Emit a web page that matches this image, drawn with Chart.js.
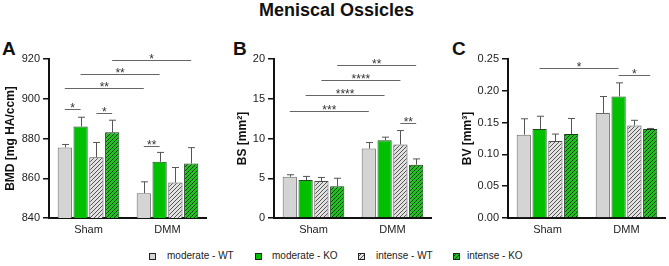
<!DOCTYPE html>
<html>
<head>
<meta charset="utf-8">
<script src="https://cdn.jsdelivr.net/npm/chart.js@4.4.1/dist/chart.umd.min.js"></script>
<style>
  body { margin: 0; background: #fff; font-family: "Liberation Sans", Arial, sans-serif; }
  #page { position: relative; width: 669px; height: 266px; overflow: hidden; }
  .abs { position: absolute; }
  #title { left: 2px; width: 669px; top: 0; text-align: center; font-weight: bold; font-size: 18px; color: #111; }
  .letter { font-weight: bold; font-size: 19px; color: #111; top: 38px; }
  .leg { font-size: 10px; color: #222; top: 250px; line-height: 12px; }
  .sw { top: 253px; }
</style>
</head>
<body>
<div id="page">
  <div id="title" class="abs">Meniscal Ossicles</div>
  <div class="abs letter" style="left:2px">A</div>
  <div class="abs letter" style="left:233px">B</div>
  <div class="abs letter" style="left:452px">C</div>
  <canvas id="chartA" class="abs" width="207" height="200" style="left:0;top:40px"></canvas>
  <canvas id="chartB" class="abs" width="207" height="200" style="left:225px;top:40px"></canvas>
  <canvas id="chartC" class="abs" width="221" height="200" style="left:445px;top:40px"></canvas>
  <div id="legend"></div>
</div>
<script>
// --- data ---
const categories = ["Sham", "DMM"];
const seriesNames = ["moderate - WT", "moderate - KO", "intense - WT", "intense - KO"];

// BMD [mg HA/ccm]
const bmdModWT = [875.5, 852.5];
const bmdModKO = [886.0, 868.3];
const bmdIntWT = [870.6, 857.8];
const bmdIntKO = [883.1, 867.4];
const bmdModWTErr = [1.5, 5.7];
const bmdModKOErr = [4.7, 4.7];
const bmdIntWTErr = [7.4, 7.6];
const bmdIntKOErr = [6.1, 8.0];

// BS [mm2]
const bsModWT = [5.19, 8.73];
const bsModKO = [4.77, 9.79];
const bsIntWT = [4.64, 9.24];
const bsIntKO = [4.0, 6.7];
const bsModWTErr = [0.25, 0.76];
const bsModKOErr = [0.46, 0.38];
const bsIntWTErr = [0.46, 1.76];
const bsIntKOErr = [1.0, 0.73];

// BV [mm3]
const bvModWT = [0.131, 0.165];
const bvModKO = [0.140, 0.191];
const bvIntWT = [0.121, 0.1456];
const bvIntKO = [0.132, 0.1398];
const bvModWTErr = [0.025, 0.026];
const bvModKOErr = [0.020, 0.0215];
const bvIntWTErr = [0.011, 0.008];
const bvIntKOErr = [0.0245, 0.001];

// significance brackets: [series, category, series, category, y, label]
const bmdBrackets = [
  [0, 0, 1, 0, 894.7, "*"],
  [2, 0, 3, 0, 893.0, "*"],
  [0, 0, 0, 1, 905.2, "**"],
  [1, 0, 1, 1, 912.6, "**"],
  [3, 0, 3, 1, 919.5, "*"],
  [0, 1, 1, 1, 876.2, "**"]
];
const bsBrackets = [
  [0, 0, 0, 1, 13.46, "***"],
  [1, 0, 1, 1, 15.44, "****"],
  [2, 0, 2, 1, 17.4, "****"],
  [3, 0, 3, 1, 19.3, "**"],
  [2, 1, 3, 1, 11.9, "**"]
];
const bvBrackets = [
  [1, 0, 1, 1, 0.2352, "*"],
  [1, 1, 3, 1, 0.2247, "*"]
];

// --- styles ---
Chart.defaults.font.family = '"Liberation Sans", Arial, sans-serif';
Chart.defaults.color = "#222";

function hatch(bg, line) {
  const c = document.createElement("canvas");
  c.width = 4; c.height = 4;
  const g = c.getContext("2d");
  g.fillStyle = bg;
  g.fillRect(0, 0, 4, 4);
  g.strokeStyle = line;
  g.lineWidth = 1;
  g.beginPath();
  g.moveTo(0, 4); g.lineTo(4, 0);
  g.moveTo(-1, 1); g.lineTo(1, -1);
  g.moveTo(3, 5); g.lineTo(5, 3);
  g.stroke();
  return g.createPattern(c, "repeat");
}

const fills = [
  "#d4d4d4",
  "#00c000",
  hatch("#e2e2e2", "#555555"),
  hatch("#22c022", "#0b3b0b")
];
const borders = ["#6a6a6a", "#234a23", "#4a4a4a", "#1a3a1a"];

const errorAndBrackets = {
  id: "errorAndBrackets",
  afterDatasetsDraw(chart, args, opts) {
    const ctx = chart.ctx;
    const y = chart.scales.y;
    ctx.save();
    // error bars (upper only)
    ctx.strokeStyle = "#555";
    ctx.lineWidth = 1;
    opts.errors.forEach((errs, si) => {
      const meta = chart.getDatasetMeta(si);
      meta.data.forEach((bar, ci) => {
        const v = chart.data.datasets[si].data[ci];
        const top = y.getPixelForValue(v + errs[ci]);
        const x = Math.round(bar.x) + 0.5;
        ctx.beginPath();
        ctx.moveTo(x, bar.y);
        ctx.lineTo(x, top);
        ctx.moveTo(x - 3.5, top);
        ctx.lineTo(x + 3.5, top);
        ctx.stroke();
      });
    });
    // brackets
    ctx.font = "12px 'Liberation Sans', Arial";
    ctx.textAlign = "center";
    ctx.textBaseline = "alphabetic";
    opts.brackets.forEach(([s1, c1, s2, c2, val, label]) => {
      const x1 = chart.getDatasetMeta(s1).data[c1].x;
      const x2 = chart.getDatasetMeta(s2).data[c2].x;
      const py = Math.round(y.getPixelForValue(val)) + 0.5;
      ctx.strokeStyle = "#666";
      ctx.beginPath();
      ctx.moveTo(x1, py);
      ctx.lineTo(x2, py);
      ctx.stroke();
      ctx.fillStyle = "#333";
      ctx.fillText(label, (x1 + x2) / 2, py + 2.5);
    });
    ctx.restore();
  }
};

function makePanel(id, series, errors, brackets, yMin, yMax, step, yTitle, yWidth, titlePad, decimals) {
  new Chart(document.getElementById(id), {
    type: "bar",
    data: {
      labels: categories,
      datasets: series.map((d, i) => ({
        label: seriesNames[i],
        data: d,
        backgroundColor: fills[i],
        borderColor: borders[i],
        borderWidth: 1,
        borderSkipped: "bottom",
        categoryPercentage: 0.8,
        barPercentage: 0.9
      }))
    },
    options: {
      responsive: false,
      animation: false,
      layout: { padding: { top: 19, right: 0, left: 0, bottom: 0 } },
      plugins: {
        legend: { display: false },
        tooltip: { enabled: false },
        errorAndBrackets: { errors: errors, brackets: brackets }
      },
      scales: {
        x: {
          grid: { display: false, drawTicks: false },
          border: { display: true, color: "#111", width: 2 },
          ticks: { font: { size: 11 }, color: "#222", padding: 5 },
          afterFit: (s) => { s.height = 22; }
        },
        y: {
          min: yMin,
          max: yMax,
          grid: { drawOnChartArea: false, color: "#111", tickLength: 6, lineWidth: 1.5 },
          border: { display: true, color: "#111", width: 2 },
          ticks: {
            stepSize: step,
            font: { size: 11 },
            color: "#222",
            padding: 3,
            callback: (v) => v.toFixed(decimals)
          },
          title: {
            display: true,
            text: yTitle,
            font: { size: 12, weight: "bold" },
            color: "#111",
            padding: { top: titlePad, bottom: 0 }
          },
          afterFit: (s) => { s.width = yWidth; }
        }
      }
    },
    plugins: [errorAndBrackets]
  });
}

makePanel("chartA",
  [bmdModWT, bmdModKO, bmdIntWT, bmdIntKO],
  [bmdModWTErr, bmdModKOErr, bmdIntWTErr, bmdIntKOErr],
  bmdBrackets, 840, 920, 20, "BMD [mg HA/ccm]", 49, 3, 0);

makePanel("chartB",
  [bsModWT, bsModKO, bsIntWT, bsIntKO],
  [bsModWTErr, bsModKOErr, bsIntWTErr, bsIntKOErr],
  bsBrackets, 0, 20, 5, "BS [mm\u00b2]", 49, 10, 0);

makePanel("chartC",
  [bvModWT, bvModKO, bvIntWT, bvIntKO],
  [bvModWTErr, bvModKOErr, bvIntWTErr, bvIntKOErr],
  bvBrackets, 0, 0.25, 0.05, "BV [mm\u00b3]", 63, 15, 2);

// --- legend ---
const legend = document.getElementById("legend");
const swX = [149, 255, 358, 453];
const txX = [167, 272, 376, 467];
seriesNames.forEach((name, i) => {
  const c = document.createElement("canvas");
  c.width = 7; c.height = 7;
  c.className = "abs sw";
  c.style.left = swX[i] + "px";
  const g = c.getContext("2d");
  g.fillStyle = fills[i];
  g.fillRect(0, 0, 7, 7);
  g.strokeStyle = "#222";
  g.lineWidth = 1;
  g.strokeRect(0.5, 0.5, 6, 6);
  legend.appendChild(c);
  const t = document.createElement("div");
  t.className = "abs leg";
  t.style.left = txX[i] + "px";
  t.textContent = name;
  legend.appendChild(t);
});
</script>
</body>
</html>
